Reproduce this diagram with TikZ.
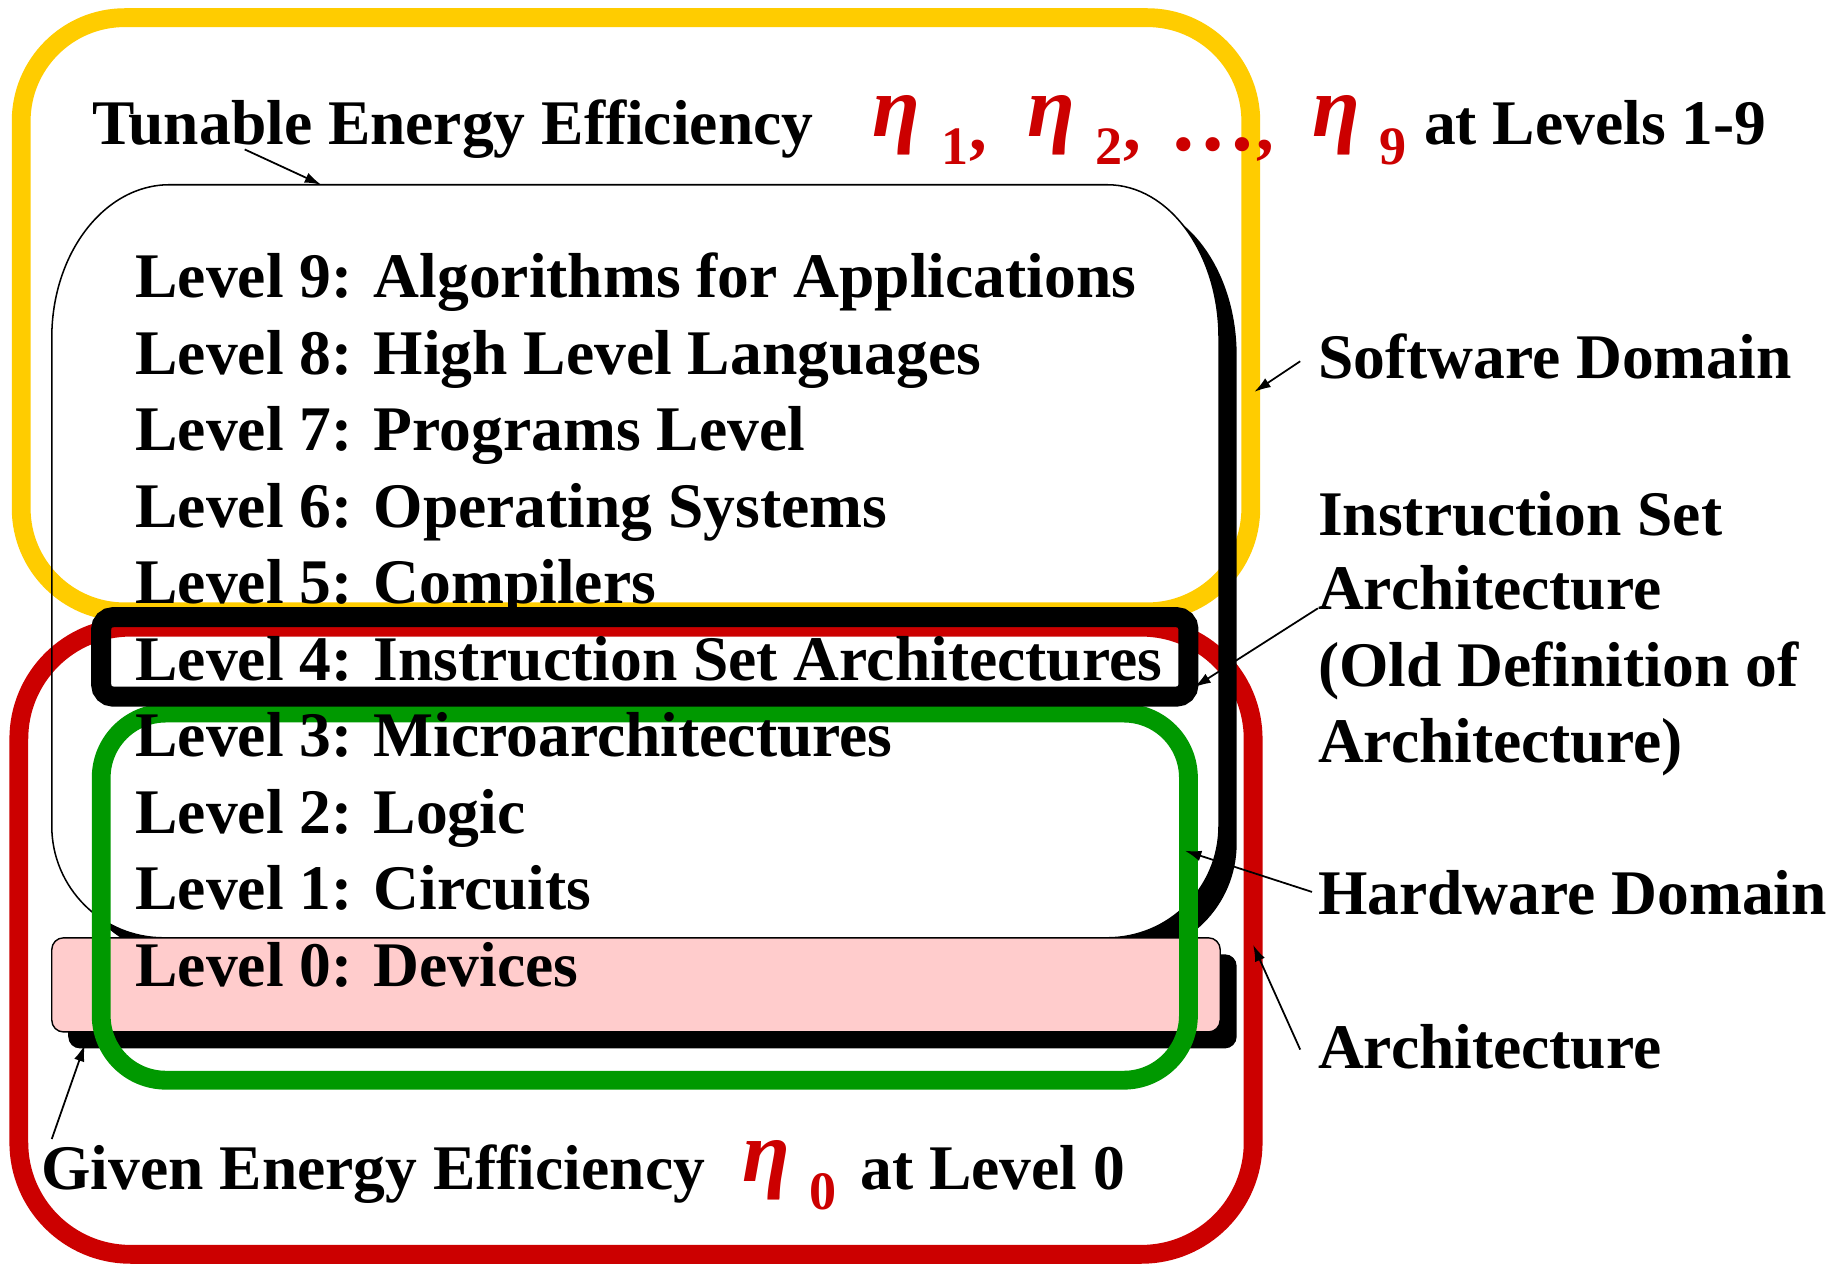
\documentclass[tikz,border=0pt]{standalone}
\usepackage{fontspec}
\setmainfont{Liberation Serif}
\usetikzlibrary{arrows.meta}
\definecolor{yel}{RGB}{255,204,0}
\definecolor{redc}{RGB}{204,0,0}
\definecolor{grn}{RGB}{0,153,0}
\definecolor{pinkc}{RGB}{255,204,204}
\def\mainboxpath{(44,287) -- (44,702) .. controls (44,754.4) and (86.6,797) .. (139,797) -- (941,797) .. controls (993.4,797) and (1036,754.6) .. (1036,702) -- (1036,287) .. controls (1036,215.2) and (993.4,157) .. (941,157) -- (144,157) .. controls (88.8,157) and (44,215.2) .. (44,287) -- cycle}
\tikzset{
  lvl/.style={font=\fontsize{54}{65}\selectfont\bfseries, inner sep=0pt, anchor=base west},
  etasym/.style={font=\fontsize{74}{80}\selectfont\bfseries\itshape, text=redc, inner sep=0pt, anchor=base west},
  subs/.style={font=\fontsize{46}{50}\selectfont\bfseries, text=redc, inner sep=0pt, anchor=base west},
  punct/.style={font=\fontsize{60}{66}\selectfont\bfseries, text=redc, inner sep=0pt, anchor=base west},
  arr/.style={line width=1.5pt, -{Latex[length=14pt,width=9pt]}},
  thick box/.style={line width=16pt}
}
\begin{document}
\begin{tikzpicture}[x=1pt,y=-1pt]
\useasboundingbox[fill=white] (0,0) rectangle (1568,1077);
% yellow software domain
\draw[yel, thick box, rounded corners=88pt] (18,15) rectangle (1063,520);
% red architecture
\draw[redc, thick box, rounded corners=95pt] (16,533) rectangle (1065,1066);
% shadow of main box
\begin{scope}[even odd rule]
  \clip (-50,-50) rectangle (1700,1200) \mainboxpath;
  \fill[black, shift={(15,15)}] \mainboxpath;
\end{scope}
\draw[line width=1.3pt] \mainboxpath;
% level 0 box
\fill[black, rounded corners=10pt] (58,811) rectangle (1051,891);
\filldraw[fill=pinkc, draw=black, line width=1.2pt, rounded corners=10pt] (44,797) rectangle (1037,877);
% green hardware
\draw[grn, thick box, rounded corners=55pt] (86,606) rectangle (1010,918);
% ISA box
\draw[black, line width=17pt, rounded corners=10pt] (86,524.5) rectangle (1010,592);
% level texts
\node[lvl] (l9) at (115,253) {Level 9: Algorithms for Applications};
\node[lvl] (l8) at (115,318) {Level 8: High Level Languages};
\node[lvl] (l7) at (115,383) {Level 7: Programs Level};
\node[lvl] (l6) at (115,448) {Level 6: Operating Systems};
\node[lvl] (l5) at (115,513) {Level 5: Compilers};
\node[lvl] (l4) at (115,578) {Level 4: Instruction Set Architectures};
\node[lvl] (l3) at (115,643) {Level 3: Microarchitectures};
\node[lvl] (l2) at (115,708) {Level 2: Logic};
\node[lvl] (l1) at (115,773) {Level 1: Circuits};
\node[lvl] (l0) at (115,838) {Level 0: Devices};
% top label
\node[lvl] (tun) at (78,123) {Tunable Energy Efficiency};
\node[etasym] (e1) at (741,116) {η};
\node[subs] (s1) at (800,140) {1};
\node[punct] (c1) at (824,128) {,};
\node[etasym] (e2) at (873,116) {η};
\node[subs] (s2) at (931,140) {2};
\node[punct] (c2) at (955,128) {,};
\node[etasym] (dots) at (994,128) {\upshape\bfseries …\fontsize{60}{66}\selectfont ,};
\node[etasym] (e9) at (1115,116) {η};
\node[subs] (s9) at (1172,140) {9};
\node[lvl] (atl) at (1210,123) {at Levels 1-9};
% right labels
\node[lvl] (sw) at (1120,322) {Software Domain};
\node[lvl] (isa1) at (1120,455) {Instruction Set};
\node[lvl] (isa2) at (1120,518) {Architecture};
\node[lvl] (isa3) at (1120,583) {(Old Definition of};
\node[lvl] (isa4) at (1120,648) {Architecture)};
\node[lvl] (hw) at (1120,777) {Hardware Domain};
\node[lvl] (ar) at (1120,908) {Architecture};
% bottom label
\node[lvl] (giv) at (35,1011) {Given Energy Efficiency};
\node[etasym] (e0) at (631,1004) {η};
\node[subs] (s0) at (688,1028) {0};
\node[lvl] (atl0) at (731,1011) {at Level 0};
% arrow anchors
\coordinate (tA) at (208,127);
\coordinate (tB) at (273,157);
\coordinate (swA) at (1105,307);
\coordinate (swB) at (1066,333);
\coordinate (isA) at (1120,517);
\coordinate (isB) at (1015,584);
\coordinate (hwA) at (1115,758);
\coordinate (hwB) at (1007,723);
\coordinate (arA) at (1105,892);
\coordinate (arB) at (1065,803);
\coordinate (gA) at (44,968);
\coordinate (gB) at (72,888);
\draw[arr] (tA) -- (tB);
\draw[arr] (swA) -- (swB);
\draw[arr] (isA) -- (isB);
\draw[arr] (hwA) -- (hwB);
\draw[arr] (arA) -- (arB);
\draw[arr] (gA) -- (gB);
\end{tikzpicture}
\end{document}
